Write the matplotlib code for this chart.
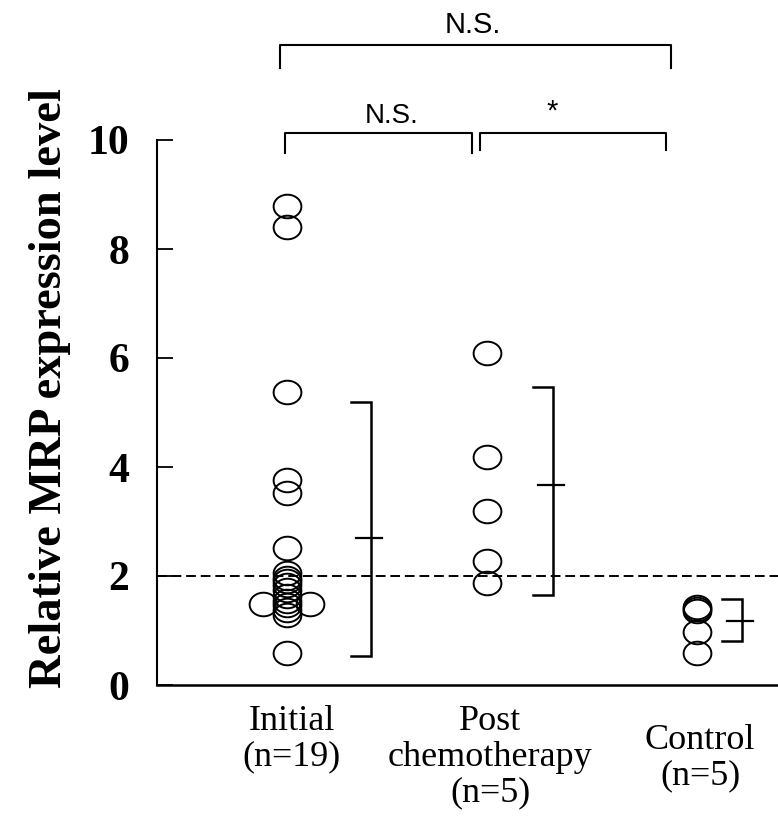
import matplotlib
matplotlib.use("Agg")
import matplotlib.pyplot as plt
import numpy as np
from matplotlib.path import Path

# ---------------- data ----------------
categories = ["Initial\n(n=19)", "Post\nchemotherapy\n(n=5)", "Control\n(n=5)"]
initial = [8.79, 8.40, 5.38, 3.77, 3.52, 2.51,
           2.05, 1.97, 1.90, 1.83, 1.74, 1.63, 1.55, 1.46, 1.37, 1.28,
           1.48, 1.48, 0.59]
post = [6.10, 4.19, 3.19, 2.28, 1.88]
control = [1.43, 1.40, 1.36, 0.98, 0.59]
group_mean = [2.69, 3.67, 1.18]
group_low = [0.53, 1.65, 0.80]
group_high = [5.19, 5.47, 1.58]
cutoff = 2.0
yticks = [0, 2, 4, 6, 8, 10]
ylabel = "Relative MRP expression level"
comparison_labels = ["N.S.", "N.S.", "*"]

# ---------------- layout ----------------
W, H = 778, 816
fig = plt.figure(figsize=(W / 100, H / 100), dpi=100)
ax_left, ax_right, ax_bottom, ax_top = 157, 778, 685, 140
ax = fig.add_axes([ax_left / W, 1 - ax_bottom / H,
                   (ax_right - ax_left) / W, (ax_bottom - ax_top) / H])

x0_px, step_px = 287, 205
def xd(px):
    return (px - x0_px) / step_px

ax.set_xlim(xd(ax_left), xd(ax_right))
ax.set_ylim(0, 10)

xpos = [xd(287), xd(487), xd(697)]

# ellipse marker (slightly wider than tall)
t = np.linspace(0, 2 * np.pi, 60)
ell = Path(np.column_stack([np.cos(t), 0.85 * np.sin(t)]), closed=True)

jitter_px = [0] * 16 + [-24, 23, 0]
groups = [initial, post, control]
jitters = [jitter_px, [0] * len(post), [0] * len(control)]
for gx, vals, jit in zip(xpos, groups, jitters):
    xs = [gx + j / step_px for j in jit]
    ax.plot(xs, vals, linestyle="none", marker=ell, markersize=20,
            markerfacecolor="none", markeredgecolor="black",
            markeredgewidth=1.4, clip_on=False, zorder=3)

# mean +/- range bars (cap opening to the left)
bar_off_px = [84, 66, 45]
cap_px = 20
for gx, off, m, lo, hi in zip(xpos, bar_off_px, group_mean, group_low, group_high):
    bx = gx + off / step_px
    c = cap_px / step_px
    ax.plot([bx - c, bx, bx, bx - c], [hi, hi, lo, lo], color="black",
            lw=1.8, solid_joinstyle="miter", zorder=2)
    ax.plot([bx - 15 / step_px, bx + 11 / step_px], [m, m], color="black",
            lw=1.6, zorder=2)

# cutoff dashed line
ax.axhline(cutoff, color="black", lw=1.4, linestyle=(0, (5, 2.5)), zorder=1)

# spines / ticks
for s in ["top", "right"]:
    ax.spines[s].set_visible(False)
ax.spines["left"].set_linewidth(1.5)
ax.spines["bottom"].set_linewidth(1.8)
ax.set_xticks([])
ax.set_yticks(yticks)
ax.set_yticklabels([str(v) for v in yticks], fontfamily="Liberation Serif",
                   fontweight="bold", fontsize=30)
ax.tick_params(axis="y", direction="in", length=11.5, width=1.3, pad=20)

# y label
fig.text(50 / W, 1 - 388 / H, ylabel, rotation=90, ha="center", va="center",
         fontfamily="Liberation Serif", fontweight="bold", fontsize=33.5)

# category labels
label_x_px = [292, 490, 700]
label_top_px = [705, 705, 724]
for lab, lx, ly in zip(categories, label_x_px, label_top_px):
    fig.text(lx / W, 1 - ly / H, lab, ha="center", va="top",
             fontfamily="Liberation Serif", fontsize=26, linespacing=1.1)

# significance brackets (pixel layout)
def yd(py):
    return (ax_bottom - py) / ((ax_bottom - ax_top) / 10)

brackets = [  # (x_left, x_right, y_bar, y_leg_end, text_x, text_y)
    (280, 671, 45, 68, 473, 25),
    (285, 472, 133, 153, 392, 116),
    (480, 666, 133, 150, 552, 112),
]
label_sizes = [21, 20, 21]
for lab, fs, (xl, xr, yb, ye, tx, ty) in zip(comparison_labels, label_sizes, brackets):
    ax.plot([xd(xl), xd(xl), xd(xr), xd(xr)], [yd(ye), yd(yb), yd(yb), yd(ye)],
            color="black", lw=1.5, clip_on=False)
    fig.text(tx / W, 1 - ty / H, lab, ha="center", va="center",
             fontfamily="Liberation Sans", fontsize=fs)

fig.savefig("out.png", dpi=100)
